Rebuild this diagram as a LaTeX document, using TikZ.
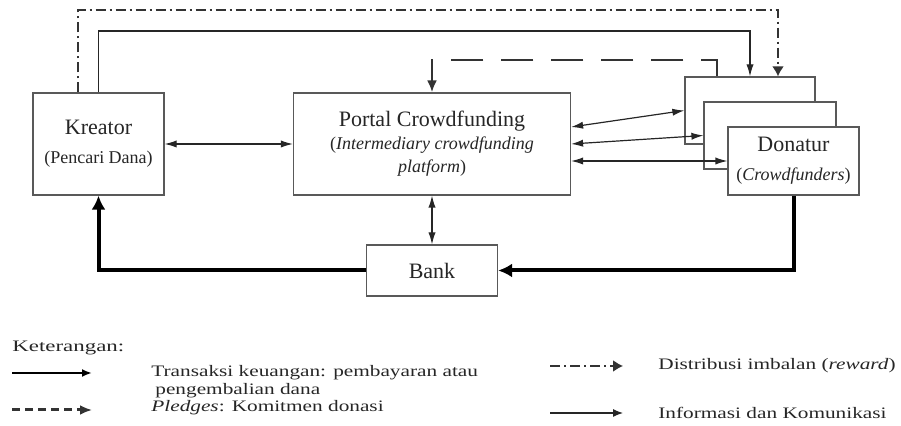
\documentclass[tikz,border=0pt]{standalone}
\usepackage{fontspec}
\setmainfont{Liberation Serif}
\usetikzlibrary{arrows.meta}
\usetikzlibrary{positioning}
\tikzset{
    box/.style={draw=black!65, line width=0.6pt, fill=white, text=black!85,
        align=center, inner sep=0pt, font=\fontsize{11}{14.5}\selectfont},
    info/.style={draw=black!85, line width=0.6pt, >={Latex[length=6pt,width=3.6pt]}},
    money/.style={draw=black, line width=2pt, >={Latex[length=7pt,width=7pt]}},
    pledge/.style={draw=black!80, line width=1.4pt, dash pattern=on 16pt off 9pt,
        >={Latex[length=6pt,width=5pt]}},
    reward/.style={draw=black!80, line width=1pt, dash pattern=on 5pt off 2pt on 1pt off 2pt,
        >={Latex[length=5pt,width=6pt]}},
    legtext/.style={text=black!85, anchor=west, inner sep=0pt},
}
\newcommand{\subtxt}[1]{{\fontsize{9}{11}\selectfont #1}}
\newcommand{\legfont}[2][1.33]{\scalebox{#1}[1]{\fontsize{8}{9.25}\selectfont #2}}

\begin{document}
\begin{tikzpicture}[x=0.5pt, y=-0.5pt]
\useasboundingbox (0,0) rectangle (901,426);

\node [box, minimum width=65.5pt, minimum height=51pt] (kreator) at (98.5,144)
    {Kreator\\ \subtxt{(Pencari Dana)}};
\node [box, minimum width=138.5pt, minimum height=51pt, font=\fontsize{11}{11.5}\selectfont] (portal) at (432,144)
    {Portal Crowdfunding\\ \subtxt{(\textit{Intermediary crowdfunding}}\\ \subtxt{\textit{platform})}};
\node [box, minimum width=65.5pt, minimum height=25.5pt] (bank) at (432,270.5) {Bank};

% tumpukan donatur
\node [box, fill=none, minimum width=65pt, minimum height=33.5pt] (don1) at (750,110.5) {};
\node [box, minimum width=66pt, minimum height=33.5pt] (don2) at (770,135.5) {};
\node [box, minimum width=65.5pt, minimum height=34pt] (donatur) at (793.5,161)
    {Donatur\\ \subtxt{(\textit{Crowdfunders})}};

\coordinate (rw1) at (78,10);
\coordinate (rw2) at (778,10);
\coordinate (in2) at (750,31);
\coordinate (pl) at (717,60);

\draw [reward,->] (kreator.north -| rw1) -- (rw1) -- (rw2) -- (don1.north -| rw2);
\draw [info,->] (kreator.north) |- (in2) -- (don1.north);
\draw [pledge,->] (don1.north -| pl) -- (pl) -| (portal.north);

\draw [info,<->] (kreator) -- (portal);
\draw [info,<->] ([yshift=8.5pt]portal.east) -- (don1.west);
\draw [info,<->] (portal.east) -- (don2.west);
\draw [info,<->] ([yshift=-8.5pt]portal.east) -- (donatur.west);
\draw [info,<->] (portal) -- (bank);

\draw [money,->] (donatur.south) |- (bank.east);
\draw [money,->] (bank.west) -| (kreator.south);

% keterangan
\node [legtext] (ket) at (12,348) {\legfont[1.43]{Keterangan:}};

\coordinate (l1a) at (12,373);
\coordinate (l1b) at (92,373);
\draw [money,->,line width=1.1pt,>={Latex[length=5pt,width=4pt]}] (l1a) -- (l1b);
\node [legtext] (lt1) at (151,382)
    {\legfont{\begin{tabular}{@{}l@{}}Transaksi keuangan: pembayaran atau\\ \hspace{1.5pt}pengembalian dana\end{tabular}}};

\coordinate (l2a) at (12,410);
\coordinate (l2b) at (92,410);
\draw [pledge,->,line width=1.5pt,dash pattern=on 4pt off 2.5pt] (l2a) -- (l2b);
\node [legtext] (lt2) at (151,408) {\legfont{\textit{Pledges}: Komitmen donasi}};

\coordinate (l3a) at (550,366);
\coordinate (l3b) at (623,366);
\draw [reward,->,line width=0.8pt] (l3a) -- (l3b);
\node [legtext] (lt3) at (658,366) {\legfont{Distribusi imbalan (\textit{reward})}};

\coordinate (l4a) at (550,413);
\coordinate (l4b) at (623,413);
\draw [info,->,>={Latex[length=5pt,width=4pt]}] (l4a) -- (l4b);
\node [legtext] (lt4) at (658,413) {\legfont{Informasi dan Komunikasi}};
\end{tikzpicture}
\end{document}
